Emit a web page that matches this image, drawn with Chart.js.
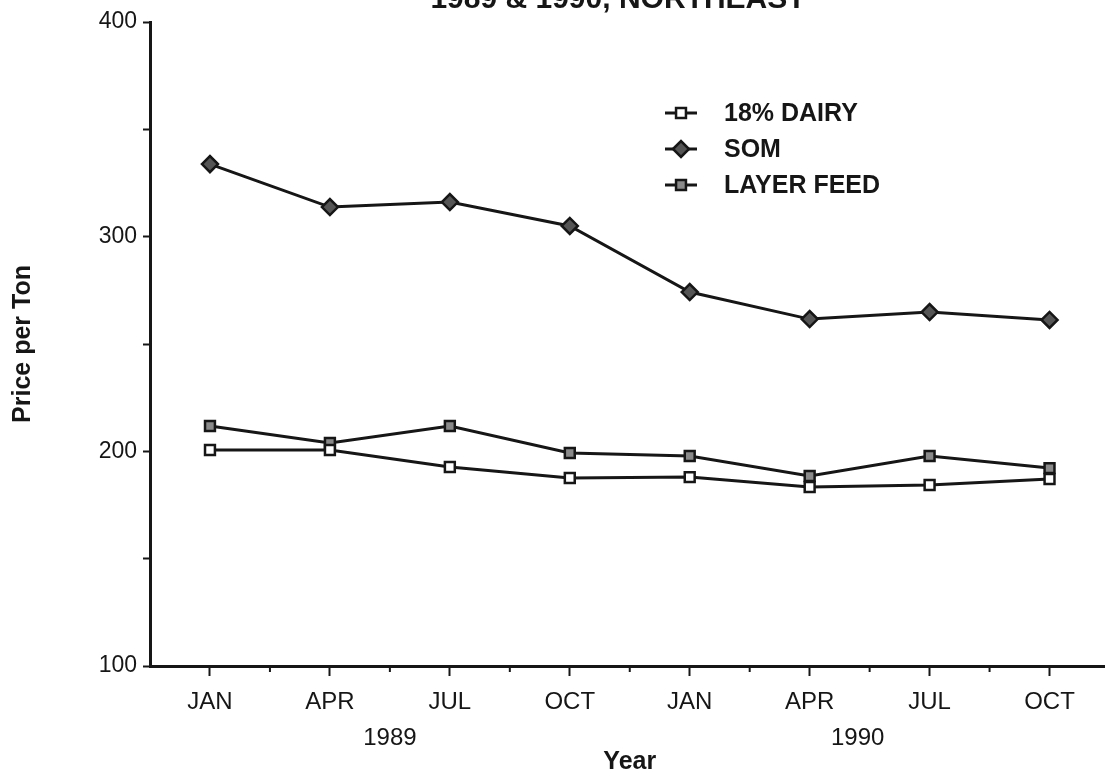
<!DOCTYPE html>
<html>
<head>
<meta charset="utf-8">
<title>Feed prices 1989 & 1990, Northeast</title>
<script src="https://cdn.jsdelivr.net/npm/chart.js@4.4.0/dist/chart.umd.min.js"></script>
<style>
    html, body { margin: 0; padding: 0; background: #fff; overflow: hidden; }
    #wrap { position: relative; width: 1120px; height: 770px; }
</style>
</head>
<body>
<div id="wrap"><canvas id="feedChart" width="1120" height="770"></canvas></div>
<script>
// data (price per ton, quarterly)
const quarters = ['JAN', 'APR', 'JUL', 'OCT', 'JAN', 'APR', 'JUL', 'OCT'];
const yearLabels = ['1989', '1990'];
const yearPositions = [1.5, 5.4];
const seriesNames = ['18% DAIRY', 'SOM', 'LAYER FEED'];
const dairyPrices = [200.6, 200.6, 192.7, 187.6, 188.0, 183.4, 184.3, 187.1];
const somPrices = [333.8, 313.8, 316.1, 305.0, 274.2, 261.6, 264.9, 261.2];
const layerPrices = [211.8, 203.9, 211.8, 199.2, 197.8, 188.5, 197.8, 192.2];
const titleText = '1989 & 1990, NORTHEAST';

const INK = '#161616';
const FONT = '"Liberation Sans", Arial, Helvetica, sans-serif';

function drawMarker(ctx, ds, x, y) {
    ctx.fillStyle = ds.pointBackgroundColor;
    ctx.strokeStyle = INK;
    ctx.lineWidth = ds.pointBorderWidth;
    Chart.helpers.drawPoint(ctx, {
        pointStyle: ds.pointStyle,
        radius: ds.pointRadius,
        borderWidth: ds.pointBorderWidth,
        rotation: 0
    }, x, y);
}

// title (cut off at the top of the scan), year row, minor ticks and legend
const extrasPlugin = {
    id: 'extras',
    afterDraw(chart) {
        const ctx = chart.ctx;
        const xs = chart.scales.x;
        const area = chart.chartArea;
        ctx.save();

        ctx.fillStyle = INK;
        ctx.font = 'bold 30px ' + FONT;
        ctx.textAlign = 'center';
        ctx.textBaseline = 'alphabetic';
        ctx.fillText(titleText, 618, 8);

        // minor ticks between quarters
        ctx.strokeStyle = INK;
        ctx.lineWidth = 2;
        for (let i = 0; i < quarters.length - 1; i++) {
            const x = (xs.getPixelForTick(i) + xs.getPixelForTick(i + 1)) / 2;
            ctx.beginPath();
            ctx.moveTo(x, area.bottom);
            ctx.lineTo(x, area.bottom + 6);
            ctx.stroke();
        }

        // year labels
        ctx.fillStyle = INK;
        ctx.font = '24px ' + FONT;
        ctx.textBaseline = 'middle';
        yearLabels.forEach((label, i) => {
            ctx.fillText(label, xs.getPixelForValue(yearPositions[i]), 738);
        });

        // legend
        ctx.textAlign = 'left';
        ctx.font = 'bold 25px ' + FONT;
        chart.data.datasets.forEach((ds, i) => {
            const y = 113 + i * 36;
            ctx.strokeStyle = INK;
            ctx.lineWidth = 3;
            ctx.beginPath();
            ctx.moveTo(665, y);
            ctx.lineTo(697, y);
            ctx.stroke();
            drawMarker(ctx, ds, 681, y);
            ctx.fillStyle = INK;
            ctx.fillText(ds.label, 724, y + 1);
        });
        ctx.restore();
    }
};

function makeSeries(label, data, style, fill, radius) {
    return {
        label: label,
        data: data,
        borderColor: INK,
        borderWidth: 3,
        tension: 0,
        pointStyle: style,
        pointRadius: radius,
        pointBackgroundColor: fill,
        pointBorderColor: INK,
        pointBorderWidth: 2.5
    };
}

const ctx = document.getElementById('feedChart');
new Chart(ctx.getContext('2d'), {
    type: 'line',
    data: {
        labels: quarters,
        datasets: [
            makeSeries(seriesNames[0], dairyPrices, 'rect', '#ffffff', 7),
            makeSeries(seriesNames[1], somPrices, 'rectRot', '#555555', 8),
            makeSeries(seriesNames[2], layerPrices, 'rect', '#8a8a8a', 7)
        ]
    },
    options: {
        responsive: false,
        animation: false,
        layout: { padding: { top: 22, right: 6, left: 0, bottom: 0 } },
        plugins: {
            legend: { display: false },
            tooltip: { enabled: false }
        },
        scales: {
            x: {
                offset: true,
                afterFit: (scale) => { scale.height = 104; },
                grid: {
                    display: true,
                    drawOnChartArea: false,
                    offset: false,
                    tickLength: 10,
                    tickWidth: 2,
                    tickColor: INK
                },
                border: { color: INK, width: 3 },
                ticks: {
                    color: INK,
                    padding: 12,
                    maxRotation: 0,
                    autoSkip: false,
                    font: { family: FONT, size: 24 }
                },
                title: {
                    display: true,
                    text: 'Year',
                    color: INK,
                    padding: { top: 0, bottom: -7 },
                    font: { family: FONT, size: 25, weight: 'bold' }
                }
            },
            y: {
                min: 100,
                max: 400,
                afterFit: (scale) => { scale.width = 150; },
                grid: {
                    display: true,
                    drawOnChartArea: false,
                    tickLength: 7,
                    tickWidth: 2,
                    tickColor: INK
                },
                border: { color: INK, width: 3 },
                ticks: {
                    stepSize: 50,
                    color: INK,
                    padding: 6,
                    font: { family: FONT, size: 23 },
                    callback: (v) => (v % 100 === 0 ? v : '')
                },
                title: {
                    display: true,
                    text: 'Price per Ton',
                    color: INK,
                    padding: { top: 8, bottom: 0 },
                    font: { family: FONT, size: 25, weight: 'bold' }
                }
            }
        }
    },
    plugins: [extrasPlugin]
});
</script>
</body>
</html>
